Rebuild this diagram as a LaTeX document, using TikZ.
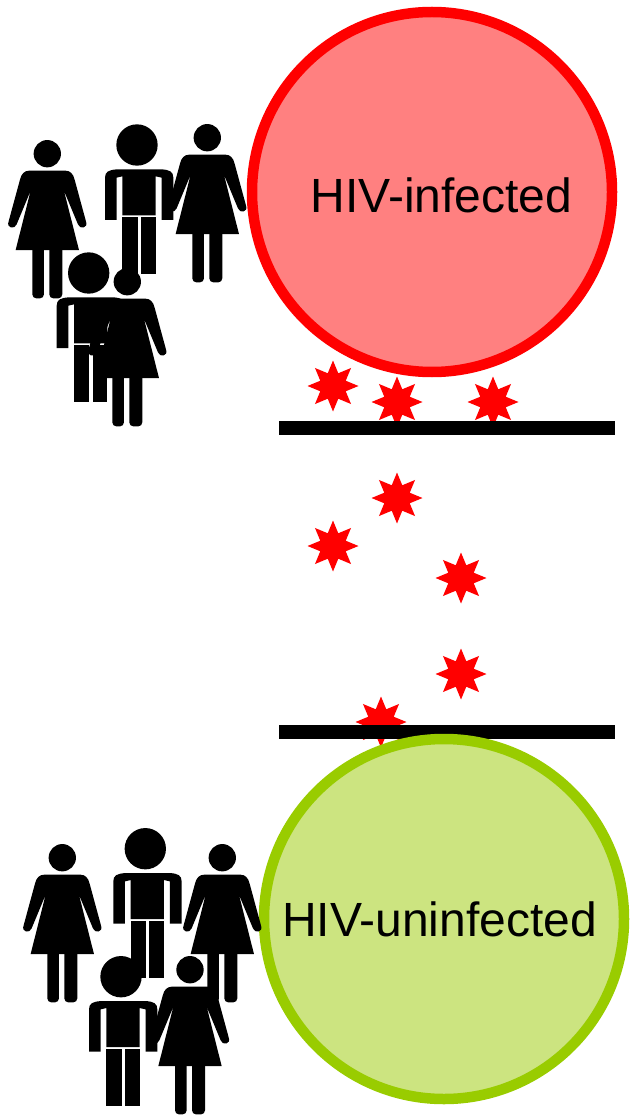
\documentclass[tikz,border=0pt]{standalone}
\usepackage{fontspec}
\setmainfont{Liberation Sans}
\usetikzlibrary{shapes.geometric}
\definecolor{infline}{HTML}{FF0000}
\definecolor{inffill}{HTML}{FF8080}
\definecolor{uniline}{HTML}{99CC00}
\definecolor{unifill}{HTML}{CCE480}
\tikzset{
  virus/.style={star,star points=8,star point ratio=1.85,minimum size=51pt,inner sep=0pt,fill=red,draw=none},
  barline/.style={fill=black,draw=none},
  groupcircle/.style={circle,line width=10.5pt,inner sep=0pt,minimum size=360pt},
  grouplabel/.style={font=\fontsize{48}{48}\selectfont,anchor=base,inner sep=0pt},
  woman/.pic={
    \fill[black] (0,0) circle (41);
    \fill[black] (-95,289) -- (-50,111) -- (-92,212) .. controls (-97,228) and (-124,224) .. (-116,203)
      -- (-82,78) .. controls (-78,60) and (-68,51) .. (-55,51) -- (55,51)
      .. controls (68,51) and (78,60) .. (82,78) -- (116,203)
      .. controls (124,224) and (97,228) .. (92,212) -- (50,111) -- (95,289) -- cycle;
    \fill[black,rounded corners=4pt] (-45,270) -- (-45,434) -- (-10,434) -- (-10,270) -- cycle;
    \fill[black,rounded corners=4pt] (6,270) -- (6,434) -- (45,434) -- (45,270) -- cycle;
  },
  man/.pic={
    \fill[black] (0,0) circle (62);
    \fill[black] (-96,225) -- (-96,98) .. controls (-96,80) and (-85,75) .. (-60,73) -- (75,73)
      .. controls (98,75) and (109,80) .. (109,98) -- (109,225) -- (74,225) -- (74,98) -- (56,94)
      -- (56,211) -- (-44,211) -- (-44,94) -- (-61,98) -- (-61,225) -- cycle;
    \fill[black] (-44,216) rectangle (2,388);
    \fill[black] (12,216) rectangle (56,388);
  }
}
\begin{document}
\begin{tikzpicture}[x=1pt,y=-1pt]
\useasboundingbox (0,0) rectangle (631,1115);
% viruses
\node[virus] (s1) at (333,386) {};
\node[virus] (s2) at (397,402) {};
\node[virus] (s3) at (493,402) {};
\node[virus] (s4) at (397,498) {};
\node[virus] (s5) at (333,546) {};
\node[virus] (s6) at (461,578) {};
\node[virus] (s7) at (461,674) {};
\node[virus] (s8) at (381,722) {};
% barriers
\fill[barline] (279,421) rectangle (615,435);
\fill[barline] (279,725) rectangle (615,739);
% groups
\node[groupcircle,draw=infline,fill=inffill] (inf) at (432,192) {};
\node[groupcircle,draw=uniline,fill=unifill] (uni) at (444,919) {};
\node[grouplabel] (inftext) at (441.5,213) {HIV-infected};
\node[grouplabel] (unitext) at (439.5,936) {HIV-uninfected};
% people, upper group
\pic[scale=1/3] at (137,145) {man};
\pic[scale=1/3] at (47.3,153.7) {woman};
\pic[scale=1/3] at (207.3,137.7) {woman};
\pic[scale=1/3] at (88.7,273) {man};
\pic[scale=1/3] at (127.3,281.7) {woman};
% people, lower group
\pic[scale=1/3] at (145.3,848.7) {man};
\pic[scale=1/3] at (62.3,857.7) {woman};
\pic[scale=1/3] at (222.3,857.7) {woman};
\pic[scale=1/3] at (121,976.7) {man};
\pic[scale=1/3] at (190,969.7) {woman};
\end{tikzpicture}
\end{document}
